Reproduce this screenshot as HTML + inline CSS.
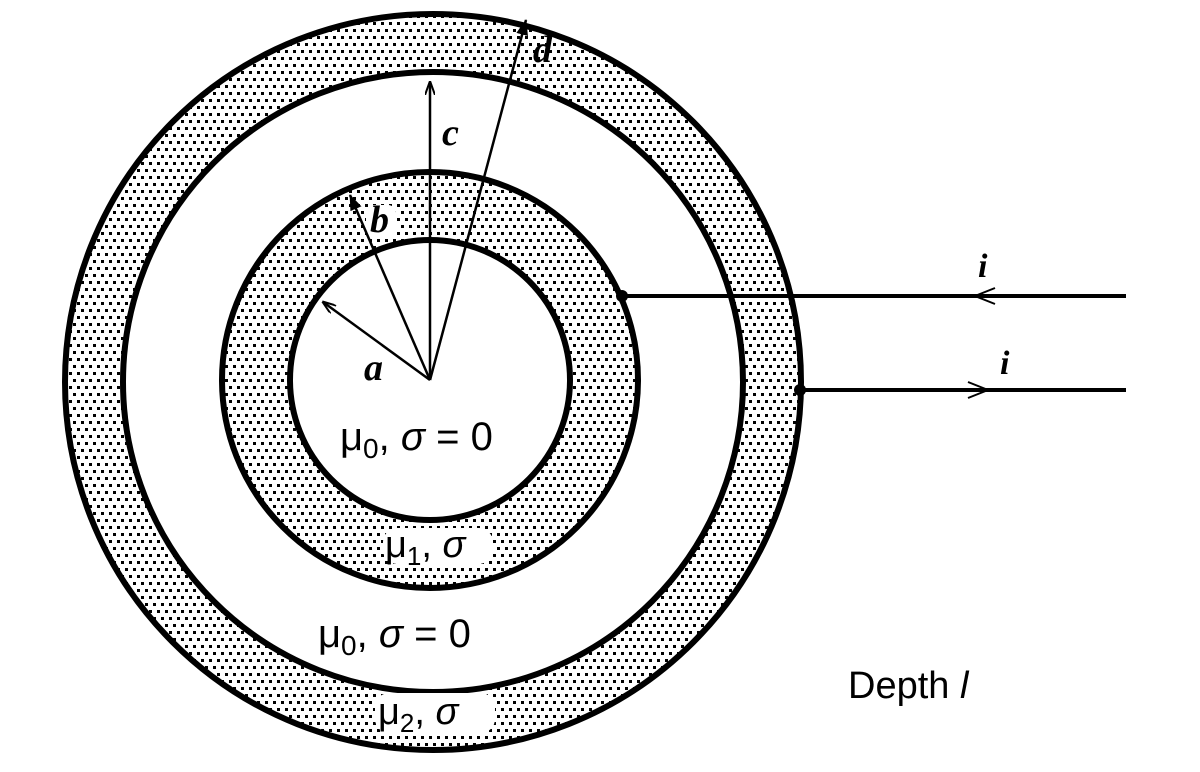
<!DOCTYPE html>
<html><head><meta charset="utf-8"><style>
html,body{margin:0;padding:0;background:#fff;}
svg{display:block;}
text{font-family:"Liberation Serif",serif;font-style:italic;font-weight:bold;fill:#000;}
.s{font-family:"Liberation Sans",sans-serif;font-style:normal;font-weight:normal;}
</style></head><body>
<svg width="1200" height="772" viewBox="0 0 1200 772" xmlns="http://www.w3.org/2000/svg">
<defs>
<pattern id="dots" width="8" height="14" patternUnits="userSpaceOnUse">
<rect x="1" y="1" width="3" height="3" fill="#000"/>
<rect x="5" y="8" width="3" height="3" fill="#000"/>
</pattern>
<marker id="ar" markerWidth="14" markerHeight="10" refX="13" refY="5" orient="auto" markerUnits="userSpaceOnUse">
<path d="M0,0 L14,5 L0,10" fill="none" stroke="#000" stroke-width="2"/>
</marker>
<marker id="af" markerWidth="16" markerHeight="12" refX="15" refY="6" orient="auto" markerUnits="userSpaceOnUse">
<path d="M0,0 L16,6 L0,12 Z" fill="#000"/>
</marker>
</defs>
<rect width="1200" height="772" fill="#fff"/>
<circle cx="433" cy="382" r="368" fill="url(#dots)" stroke="#000" stroke-width="6"/>
<circle cx="433" cy="382" r="310" fill="#fff" stroke="#000" stroke-width="6"/>
<circle cx="430" cy="380" r="208" fill="url(#dots)" stroke="#000" stroke-width="6"/>
<circle cx="430" cy="380" r="140" fill="#fff" stroke="#000" stroke-width="6"/>
<rect x="383" y="528" width="110" height="36" rx="14" fill="#fff"/>
<rect x="375" y="693" width="120" height="40" rx="14" fill="#fff"/>
<rect x="366" y="205" width="30" height="34" rx="8" fill="#fff"/>
<g stroke="#000" stroke-width="2.5" fill="none">
<line x1="430" y1="380" x2="430" y2="82" marker-end="url(#ar)"/>
<line x1="430" y1="380" x2="526" y2="20" marker-end="url(#af)"/>
<line x1="430" y1="380" x2="350" y2="195" marker-end="url(#af)"/>
<line x1="430" y1="380" x2="323" y2="302" marker-end="url(#ar)"/>
</g>
<g stroke="#000" stroke-width="4">
<line x1="622" y1="296" x2="1126" y2="296"/>
<line x1="800" y1="390" x2="1126" y2="390"/>
</g>
<g stroke="#000" stroke-width="2" fill="none">
<path d="M995,288 L975,296 L995,304"/>
<path d="M968,382 L988,390 L968,398"/>
</g>
<circle cx="622" cy="296" r="6" fill="#000"/>
<circle cx="800" cy="390" r="6" fill="#000"/>
<text x="442" y="145" font-size="38">c</text>
<text x="533" y="62" font-size="38">d</text>
<text x="370" y="232" font-size="38">b</text>
<text x="364" y="380" font-size="38">a</text>
<text x="978" y="277" font-size="34">i</text>
<text x="1000" y="374" font-size="34">i</text>
<text x="340" y="450" font-size="40" class="s">μ<tspan font-size="28" dy="8">0</tspan><tspan dy="-8">, </tspan><tspan font-style="italic">σ</tspan> = 0</text>
<text x="385" y="557" font-size="38" class="s">μ<tspan font-size="26" dy="8">1</tspan><tspan dy="-8">, </tspan><tspan font-style="italic">σ</tspan></text>
<text x="318" y="647" font-size="40" class="s">μ<tspan font-size="28" dy="8">0</tspan><tspan dy="-8">, </tspan><tspan font-style="italic">σ</tspan> = 0</text>
<text x="378" y="724" font-size="38" class="s">μ<tspan font-size="26" dy="8">2</tspan><tspan dy="-8">, </tspan><tspan font-style="italic">σ</tspan></text>
<text x="848" y="698" font-size="38" class="s">Depth <tspan font-style="italic">l</tspan></text>
</svg>
</body></html>
